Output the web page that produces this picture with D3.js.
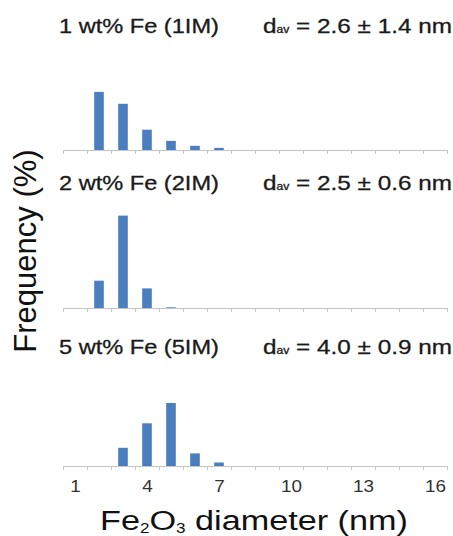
<!DOCTYPE html>
<html>
<head>
<meta charset="utf-8">
<script src="https://cdn.jsdelivr.net/npm/d3@7"></script>
<style>
  body { margin: 0; background: #fff; }
  text { font-family: "Liberation Sans", Arial, Helvetica, sans-serif; }
</style>
</head>
<body>
<svg id="chart" width="453" height="536"></svg>
<script>
// diametros (nm) y frecuencias (%)
const diametros = [1, 2, 3, 4, 5, 6, 7, 8, 9, 10, 11, 12, 13, 14, 15, 16];
const freq1IM = [0, 41.5, 33, 14.5, 6.5, 3, 1.5, 0, 0, 0, 0, 0, 0, 0, 0, 0];
const freq2IM = [0, 19.5, 66, 14, 0.5, 0, 0, 0, 0, 0, 0, 0, 0, 0, 0, 0];
const freq5IM = [0, 0, 13, 30.5, 45, 9, 2.5, 0, 0, 0, 0, 0, 0, 0, 0, 0];
const titulos = ["1 wt% Fe (1IM)", "2 wt% Fe (2IM)", "5 wt% Fe (5IM)"];
const promedios = ["2.6 \u00b1 1.4", "2.5 \u00b1 0.6", "4.0 \u00b1 0.9"];
const tickLabels = [1, 4, 7, 10, 13, 16];

const paneles = [
  { titulo: titulos[0], dav: promedios[0], valores: freq1IM, base: 150, tituloY: 33 },
  { titulo: titulos[1], dav: promedios[1], valores: freq2IM, base: 308, tituloY: 190 },
  { titulo: titulos[2], dav: promedios[2], valores: freq5IM, base: 466, tituloY: 354 }
];

const svg = d3.select("#chart");
const azul = "#4a7ebf";

const x = d3.scaleLinear().domain([0.5, 16.5]).range([63, 447]);
const paso = x(2) - x(1);
const anchoBarra = paso * 0.4;
const alto = d3.scaleLinear().domain([0, 100]).range([0, 140]);

// estira un texto horizontalmente hasta el ancho deseado
function ajustarAncho(sel, x0, ancho) {
  const w = sel.node().getBBox().width;
  sel.attr("transform", `translate(${x0},0) scale(${ancho / w},1)`);
}

paneles.forEach((p, i) => {
  const g = svg.append("g");

  // eje con marcas en los limites de cada clase
  const eje = g.append("g")
    .attr("transform", `translate(0,${p.base})`)
    .call(d3.axisBottom(x)
      .tickValues(d3.range(0.5, 17, 1))
      .tickSize(4)
      .tickSizeOuter(0)
      .tickFormat(""));
  eje.select(".domain").attr("stroke", "#c4c4c4").attr("stroke-width", 1.2);
  eje.selectAll(".tick line").attr("stroke", "#c4c4c4");

  // barras
  g.selectAll("rect")
    .data(diametros.map((d, k) => ({ d: d, v: p.valores[k] })).filter(e => e.v > 0))
    .join("rect")
    .attr("x", e => x(e.d) - anchoBarra / 2)
    .attr("y", e => p.base - alto(e.v))
    .attr("width", anchoBarra)
    .attr("height", e => alto(e.v))
    .attr("fill", azul);

  // titulo del panel
  const t = g.append("text")
    .attr("y", p.tituloY)
    .attr("font-size", 20)
    .attr("fill", "#1a1a1a")
    .attr("stroke", "#1a1a1a")
    .attr("stroke-width", 0.3)
    .text(p.titulo);
  ajustarAncho(t, 59, 160);

  const d = g.append("text")
    .attr("y", p.tituloY)
    .attr("font-size", 20)
    .attr("fill", "#1a1a1a")
    .attr("stroke", "#1a1a1a")
    .attr("stroke-width", 0.3);
  d.append("tspan").text("d");
  d.append("tspan").attr("font-size", 10).text("av");
  d.append("tspan").text(" = " + p.dav + " nm");
  ajustarAncho(d, 263, 189);

  // etiquetas solo en el ultimo panel
  if (i === 2) {
    const etiquetas = g.append("g")
      .attr("transform", `translate(0,${p.base})`)
      .call(d3.axisBottom(x).tickValues(tickLabels).tickSize(0).tickPadding(15));
    etiquetas.select(".domain").remove();
    etiquetas.selectAll("text")
      .attr("font-size", 16)
      .attr("font-family", "Liberation Sans, Arial, sans-serif")
      .attr("fill", "#333")
      .attr("transform", "scale(1.18,1)");
  }
});

// titulo eje x
const tx = svg.append("text")
  .attr("y", 530)
  .attr("font-size", 28)
  .attr("fill", "#111");
tx.append("tspan").text("Fe");
tx.append("tspan").attr("font-size", 14).attr("dy", 3).text("2");
tx.append("tspan").attr("dy", -3).text("O");
tx.append("tspan").attr("font-size", 14).attr("dy", 3).text("3");
tx.append("tspan").attr("dy", -3).text(" diameter (nm)");
ajustarAncho(tx, 100, 308);

// titulo eje y
svg.append("text")
  .attr("transform", "translate(36,251) rotate(-90)")
  .attr("text-anchor", "middle")
  .attr("font-size", 31)
  .attr("fill", "#111")
  .text("Frequency (%)");
</script>
</body>
</html>
